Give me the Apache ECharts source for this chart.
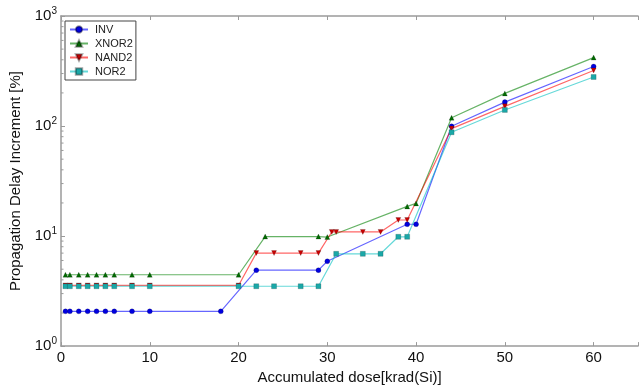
<!DOCTYPE html>
<html>
<head>
<meta charset="utf-8">
<script src="https://cdn.jsdelivr.net/npm/echarts@6/dist/echarts.min.js"></script>
<style>
  html, body { margin: 0; padding: 0; background: #fff; }
  #chart { width: 641px; height: 390px; }
</style>
</head>
<body>
<div id="chart"></div>
<script>
// Propagation delay increment vs. accumulated total ionizing dose
const doseINV   = [0.5, 1, 2, 3, 4, 5, 6, 8, 10, 18, 22, 29, 30, 39, 40, 44, 50, 60];
const delayINV  = [2.07, 2.07, 2.07, 2.07, 2.07, 2.07, 2.07, 2.07, 2.07, 2.07, 4.9, 4.9, 5.9, 12.8, 12.8, 99.5, 165, 348];

const doseXNOR2  = [0.5, 1, 2, 3, 4, 5, 6, 8, 10, 20, 23, 29, 30, 39, 40, 44, 50, 60];
const delayXNOR2 = [4.45, 4.45, 4.45, 4.45, 4.45, 4.45, 4.45, 4.45, 4.45, 4.45, 9.9, 9.9, 9.8, 18.6, 19.8, 119, 198, 419];

const doseNAND2  = [0.5, 1, 2, 3, 4, 5, 6, 8, 10, 20, 22, 24, 27, 29, 30.5, 31, 34, 36, 38, 39, 44, 50, 60];
const delayNAND2 = [3.56, 3.56, 3.56, 3.56, 3.56, 3.56, 3.56, 3.56, 3.56, 3.56, 7.0, 7.0, 7.0, 7.0, 10.9, 10.9, 10.9, 10.9, 14.0, 14.0, 94.8, 151, 320];

const doseNOR2  = [0.5, 1, 2, 3, 4, 5, 6, 8, 10, 20, 22, 24, 27, 29, 31, 34, 36, 38, 39, 44, 50, 60];
const delayNOR2 = [3.5, 3.5, 3.5, 3.5, 3.5, 3.5, 3.5, 3.5, 3.5, 3.5, 3.5, 3.5, 3.5, 3.5, 6.9, 6.9, 6.9, 9.85, 9.85, 87.8, 140, 279];

const xTicks = [0, 10, 20, 30, 40, 50, 60];
const yMinorTicks = [2, 3, 4, 5, 6, 7, 8, 9, 20, 30, 40, 50, 60, 70, 80, 90, 200, 300, 400, 500, 600, 700, 800, 900];

const FONT = "'Liberation Sans', Arial, sans-serif";
const AXIS_GREY = '#9a9a9a';

function pairs(xs, ys) { return xs.map((x, i) => [x, ys[i]]); }

function lineSeries(name, xs, ys, color, markerColor, symbol, size) {
  return {
    name: name,
    type: 'line',
    data: pairs(xs, ys),
    symbol: symbol,
    symbolSize: size,
    showAllSymbol: true,
    lineStyle: { color: color, width: 1.2, opacity: 0.6 },
    itemStyle: { color: markerColor, borderColor: 'rgba(0,0,0,0.35)', borderWidth: 0.5 },
    emphasis: { disabled: true },
    animation: false,
    z: 3
  };
}

const chart = echarts.init(document.getElementById('chart'), null, { renderer: 'canvas' });

chart.setOption({
  backgroundColor: '#fff',
  animation: false,
  textStyle: { fontFamily: FONT },
  grid: { left: 61, top: 16, width: 590, height: 331, containLabel: false },
  legend: {
    data: ['INV', 'XNOR2', 'NAND2', 'NOR2'],
    orient: 'vertical',
    left: 65,
    top: 21,
    padding: [3, 3, 3, 4],
    itemGap: 3,
    itemWidth: 18,
    itemHeight: 8,
    borderColor: '#444',
    borderWidth: 1,
    backgroundColor: '#fff',
    textStyle: { fontFamily: FONT, fontSize: 11, color: '#222', padding: [0, 0, 0, 2] }
  },
  xAxis: [
    {
      type: 'value',
      min: 0,
      max: 65,
      interval: 10,
      name: 'Accumulated dose[krad(Si)]',
      nameLocation: 'middle',
      nameGap: 22,
      nameTextStyle: { fontFamily: FONT, fontSize: 15, color: '#111' },
      axisLine: { show: true, lineStyle: { color: AXIS_GREY, width: 1.5 } },
      axisTick: { show: true, inside: true, length: 4, lineStyle: { color: AXIS_GREY } },
      axisLabel: {
        fontFamily: FONT, fontSize: 15, color: '#111', margin: 4,
        formatter: v => (xTicks.indexOf(v) >= 0 ? String(v) : '')
      },
      splitLine: { show: false }
    },
    {
      type: 'value',
      position: 'top',
      min: 0,
      max: 65,
      interval: 10,
      axisLine: { show: true, lineStyle: { color: AXIS_GREY, width: 1.5 } },
      axisTick: { show: true, inside: true, length: 4, lineStyle: { color: AXIS_GREY } },
      axisLabel: { show: false },
      splitLine: { show: false }
    }
  ],
  yAxis: {
    type: 'log',
    logBase: 10,
    min: 1,
    max: 1000,
    name: 'Propagation Delay Increment [%]',
    nameLocation: 'middle',
    nameGap: 33,
    nameTextStyle: { fontFamily: FONT, fontSize: 15, color: '#111' },
    axisLine: { show: true, lineStyle: { color: AXIS_GREY, width: 1.5 } },
    axisTick: { show: true, inside: true, length: 4, lineStyle: { color: AXIS_GREY } },
    axisLabel: {
      margin: 4,
      fontFamily: FONT,
      fontSize: 15,
      color: '#111',
      formatter: v => '10{s|' + Math.round(Math.log10(v)) + '}',
      rich: {
        s: { fontFamily: FONT, fontSize: 10, color: '#111', verticalAlign: 'top', padding: [0, 0, 9, 0] }
      }
    },
    splitLine: { show: false }
  },
  series: [
    {
      // logarithmic minor ticks along the left spine
      name: 'minorTicks',
      type: 'custom',
      silent: true,
      animation: false,
      clip: false,
      z: 1,
      data: yMinorTicks.map(v => [0, v]),
      renderItem: function (params, api) {
        const p = api.coord([0, api.value(1)]);
        return {
          type: 'line',
          shape: { x1: p[0], y1: p[1], x2: p[0] + 2.5, y2: p[1] },
          style: { stroke: AXIS_GREY, lineWidth: 1 }
        };
      }
    },
    lineSeries('INV', doseINV, delayINV, '#0000ff', '#0000e0', 'circle', 5),
    lineSeries('XNOR2', doseXNOR2, delayXNOR2, '#008000', '#006b00', 'triangle', 5),
    lineSeries('NAND2', doseNAND2, delayNAND2, '#ff0000', '#c80000', 'path://M0,0 L10,0 L5,10 Z', 5),
    lineSeries('NOR2', doseNOR2, delayNOR2, '#00bfbf', '#1aa8a8', 'rect', 5)
  ]
});
</script>
</body>
</html>
